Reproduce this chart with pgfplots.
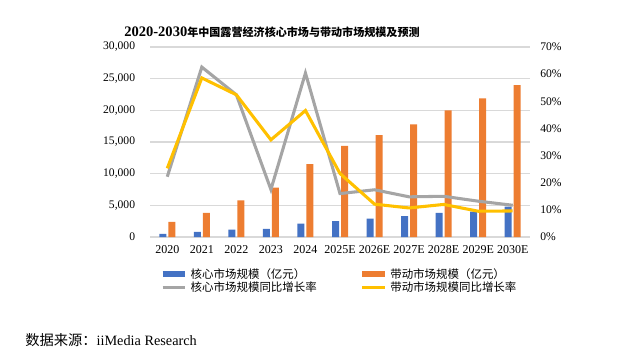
\documentclass[border=0pt]{standalone}
\usepackage{pgfplots}
\pgfplotsset{compat=1.18}
\usepackage{fontspec}
\setmainfont{Liberation Serif}
\newfontfamily\cjk{Noto Sans CJK SC}
\definecolor{cblue}{HTML}{4472C4}
\definecolor{corange}{HTML}{ED7D31}
\definecolor{cgray}{HTML}{A5A5A5}
\definecolor{cyellow}{HTML}{FFC000}
\begin{document}
\begin{tikzpicture}
\path[use as bounding box] (0,0) rectangle (480pt,-271.5pt);
\node[anchor=center] at (204pt,-24pt) {\bfseries\fontsize{10.9}{12}\selectfont 2020-2030{\cjk\fontsize{8.3}{10}\selectfont 年中国露营经济核心市场与带动市场规模及预测}};
\node[anchor=west, inner sep=0pt] at (18.75pt,-255pt) {\fontsize{10.7}{12}\selectfont{\cjk 数据来源：}iiMedia Research};
\begin{axis}[
  at={(112.5pt,-177.75pt)}, anchor=south west,
  scale only axis, width=285pt, height=142.5pt,
  xmin=-0.5, xmax=10.5, ymin=0, ymax=30000,
  ytick={0,5000,...,30000},
  xtick={0,...,10},
  xticklabels={2020,2021,2022,2023,2024,2025E,2026E,2027E,2028E,2029E,2030E},
  ymajorgrids, grid style={draw=black!15, line width=0.8pt},
  axis line style={draw=none},
  major tick length=0,
  scaled y ticks=false,
  /pgf/number format/.cd, 1000 sep={,}, assume math mode=true, /pgfplots/.cd,
  yticklabel style={font=\fontsize{8.7}{10}\selectfont, inner sep=0pt, xshift=-11pt},
  xticklabel style={font=\fontsize{9}{10}\selectfont, inner sep=0pt, yshift=-6.5pt},
  ybar=1.5pt, bar width=5.25pt,
]
\addplot[fill=cblue, draw=none] coordinates {(0,500) (1,800) (2,1150) (3,1300) (4,2100) (5,2500) (6,2900) (7,3300) (8,3800) (9,4000) (10,4800)};
\addplot[fill=corange, draw=none] coordinates {(0,2400) (1,3800) (2,5800) (3,7800) (4,11500) (5,14400) (6,16100) (7,17800) (8,20000) (9,21900) (10,24000)};
\end{axis}
\begin{axis}[
  at={(112.5pt,-177.75pt)}, anchor=south west,
  scale only axis, width=285pt, height=142.5pt,
  xmin=-0.5, xmax=10.5, ymin=0, ymax=70,
  ytick={0,10,...,70},
  yticklabel={\pgfmathprintnumber{\tick}\%},
  yticklabel pos=right,
  xtick=\empty,
  axis line style={draw=none},
  major tick length=0,
  /pgf/number format/assume math mode=true,
  yticklabel style={font=\fontsize{8.7}{10}\selectfont, inner sep=0pt, xshift=7.5pt, anchor=west},
  legend columns=2,
  legend cell align=left,
  legend style={draw=none, fill=none, at={(0.015,-0.135)}, anchor=north west,
    font=\cjk\fontsize{8.6}{10}\selectfont,
    /tikz/every even column/.append style={column sep=30pt},
    row sep=-3pt},
]
\addlegendimage{line legend, cblue, line width=4pt}
\addlegendimage{line legend, corange, line width=4pt}
\addplot[cgray, line width=2.3pt, mark=none] coordinates {(0,22.2) (1,62.6) (2,52.4) (3,17.5) (4,60.4) (5,16.0) (6,17.4) (7,14.8) (8,15.0) (9,13.2) (10,11.7)};
\addplot[cyellow, line width=2.3pt, mark=none] coordinates {(0,25.3) (1,58.6) (2,52.4) (3,35.8) (4,46.6) (5,23.4) (6,12.1) (7,10.7) (8,12.0) (9,9.5) (10,9.6)};
\legend{核心市场规模（亿元）,带动市场规模（亿元）,核心市场规模同比增长率,带动市场规模同比增长率}
\end{axis}
\end{tikzpicture}
\end{document}
